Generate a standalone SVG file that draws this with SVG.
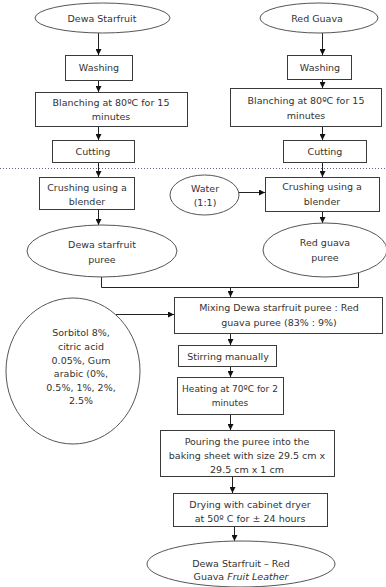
<svg xmlns="http://www.w3.org/2000/svg" width="386" height="587" viewBox="0 0 386 587">
<style>
.b{fill:#fff;stroke:#3a3a3a;stroke-width:1}
.e{fill:#fff;stroke:#555;stroke-width:1}
text{font-family:"DejaVu Sans",sans-serif;font-size:9.5px;fill:#333;text-anchor:middle}
.c{fill:none;stroke:#222;stroke-width:1}
.a{marker-end:url(#ah)}
.dot{stroke:#6b5b95;stroke-width:1;stroke-dasharray:1 2}
.t{font-size:9px}
</style>
<defs>
<marker id="ah" markerWidth="6" markerHeight="6" refX="6" refY="3" orient="auto" markerUnits="userSpaceOnUse"><path d="M0,0L6,3L0,6z" fill="#111"/></marker>
</defs>
<rect width="386" height="587" fill="#fff"/>
<line class="dot" x1="0" y1="168.5" x2="386" y2="168.5"/>
<g id="connectors">
<path class="c a" d="M98.5,33V55"/>
<path class="c a" d="M322.5,33V55"/>
<path class="c a" d="M98.5,80V92"/>
<path class="c a" d="M322.5,80V88"/>
<path class="c a" d="M98.5,127V140"/>
<path class="c a" d="M322.5,127V140"/>
<path class="c a" d="M98.5,163V177"/>
<path class="c a" d="M322.5,163V177"/>
<path class="c a" d="M239,192.5H265"/>
<path class="c a" d="M98.5,210V225"/>
<path class="c a" d="M322.5,212V223"/>
<path class="c" d="M101.5,277V287.5H358.5V273"/>
<path class="c a" d="M230.5,287.5V297"/>
<path class="c a" d="M116,314.5H174"/>
<path class="c a" d="M230.5,334V345"/>
<path class="c a" d="M230.5,367V377"/>
<path class="c a" d="M230.5,415V430"/>
<path class="c a" d="M232.5,477V493"/>
<path class="c a" d="M234.5,527V541"/>
</g>
<g id="n1"><ellipse class="e" cx="102.5" cy="18" rx="67.5" ry="15"/><text x="102" y="21.5">Dewa Starfruit</text></g>
<g id="n2"><ellipse class="e" cx="319" cy="18" rx="59" ry="15"/><text x="317" y="21.5">Red Guava</text></g>
<g id="n3"><rect class="b" x="65.5" y="55.5" width="67" height="25"/><text x="99" y="71">Washing</text></g>
<g id="n4"><rect class="b" x="287.5" y="55.5" width="64" height="24"/><text x="320" y="70.5">Washing</text></g>
<g id="n5"><rect class="b" x="35.5" y="92.5" width="152" height="34"/><text x="111" y="106">Blanching at 80ºC for 15</text><text x="111" y="120">minutes</text></g>
<g id="n6"><rect class="b" x="230.5" y="88.5" width="151" height="38"/><text x="306" y="104">Blanching at 80ºC for 15</text><text x="306" y="119">minutes</text></g>
<g id="n7"><rect class="b" x="52.5" y="140.5" width="82" height="22"/><text x="93" y="155">Cutting</text></g>
<g id="n8"><rect class="b" x="283.5" y="140.5" width="83" height="22"/><text x="325" y="155">Cutting</text></g>
<g id="n9"><rect class="b" x="39.5" y="177.5" width="95" height="32"/><text x="87" y="191">Crushing using a</text><text x="87" y="205">blender</text></g>
<g id="n10"><ellipse class="e" cx="204.5" cy="195" rx="34.5" ry="20"/><text x="205" y="192">Water</text><text x="205" y="206">(1:1)</text></g>
<g id="n11"><rect class="b" x="265.5" y="177.5" width="114" height="34"/><text x="322" y="190">Crushing using a</text><text x="322" y="205">blender</text></g>
<g id="n12"><ellipse class="e" cx="102" cy="251" rx="75" ry="26"/><text x="102" y="248">Dewa starfruit</text><text x="102" y="263">puree</text></g>
<g id="n13"><ellipse class="e" cx="325" cy="250" rx="62" ry="27"/><text x="325" y="246">Red guava</text><text x="325" y="261">puree</text></g>
<g id="n14"><rect class="b" x="174.5" y="297.5" width="208" height="36"/><text x="279" y="311">Mixing Dewa starfruit puree : Red</text><text x="279" y="326">guava puree (83% : 9%)</text></g>
<g id="n15"><ellipse class="e" cx="73" cy="371" rx="67" ry="73"/><text x="81" y="336">Sorbitol 8%,</text><text x="81" y="350">citric acid</text><text x="81" y="364">0.05%, Gum</text><text x="81" y="377">arabic (0%,</text><text x="81" y="391">0.5%, 1%, 2%,</text><text x="81" y="404">2.5%</text></g>
<g id="n16"><rect class="b" x="178.5" y="345.5" width="98" height="21"/><text x="228" y="359.5">Stirring manually</text></g>
<g id="n17"><rect class="b" x="177.5" y="377.5" width="106" height="37"/><text class="t" x="230" y="392">Heating at 70ºC for 2</text><text class="t" x="230" y="406">minutes</text></g>
<g id="n18"><rect class="b" x="160.5" y="430.5" width="174" height="46"/><text x="247" y="445">Pouring the puree into the</text><text x="247" y="459">baking sheet with size 29.5 cm x</text><text x="247" y="473">29.5 cm x 1 cm</text></g>
<g id="n19"><rect class="b" x="173.5" y="493.5" width="154" height="33"/><text x="250" y="507.5">Drying with cabinet dryer</text><text x="250" y="521.5">at 50º C for ± 24 hours</text></g>
<g id="n20"><ellipse class="e" cx="241" cy="564" rx="94" ry="23"/><text x="241" y="566.5">Dewa Starfruit – Red</text><text x="241" y="580">Guava <tspan font-style="italic">Fruit Leather</tspan></text></g>
</svg>
